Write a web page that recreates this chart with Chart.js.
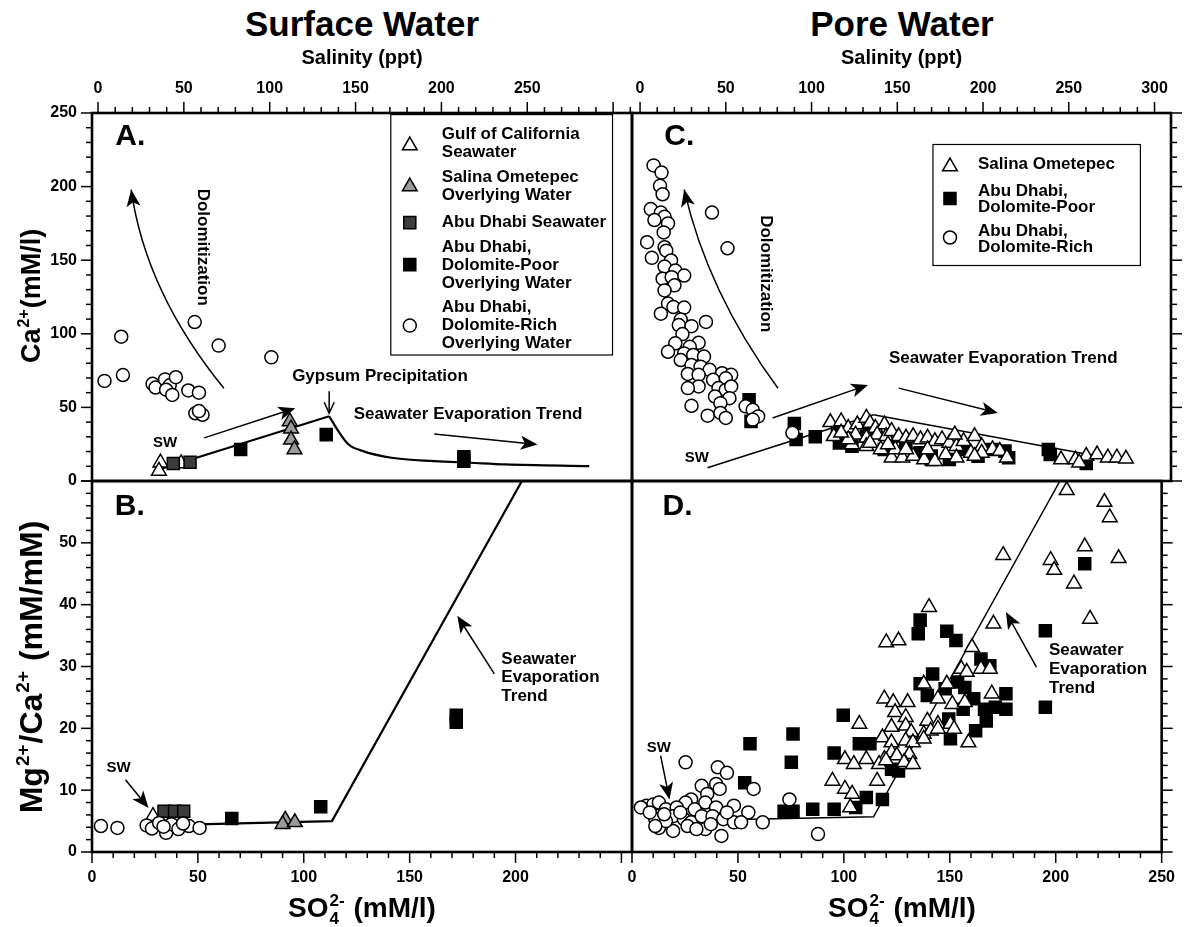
<!DOCTYPE html>
<html>
<head>
<meta charset="utf-8">
<title>Surface Water / Pore Water</title>
<script src="https://cdn.jsdelivr.net/npm/chart.js@4.4.1/dist/chart.umd.min.js"></script>
<style>
  body { margin: 0; background: #fff; }
  #wrap { position: relative; width: 1191px; height: 927px; }
  #wrap canvas { position: absolute; left: 0; top: 0; }
  .head {
    position: absolute; top: 4px; transform: translateX(-50%);
    font: bold 35px "Liberation Sans", Arial, sans-serif; white-space: nowrap;
  }
</style>
</head>
<body>
<div id="wrap">
  <div class="head" style="left:362px">Surface Water</div>
  <div class="head" style="left:902px">Pore Water</div>
  <canvas id="panelA" width="1191" height="927"></canvas>
  <canvas id="panelB" width="1191" height="927"></canvas>
  <canvas id="panelC" width="1191" height="927"></canvas>
  <canvas id="panelD" width="1191" height="927"></canvas>
</div>
<script>
const FONT = '"Liberation Sans", Arial, Helvetica, sans-serif';

// ---- data: [SO4 (mM/l), value] ----
// A. surface water, Ca2+ (mM/l)
const aGulfSeawater = [[32.3, 12.4], [31.6, 6.8], [42.1, 11.9]];
const aSalinaOverlying = [[93.4, 40.5], [94.0, 35.5], [94.0, 28.0], [95.6, 21.4]];
const aAbuSeawater = [[38.4, 11.9], [46.3, 12.8]];
const aAbuPoorOverlying = [[70.2, 21.4], [110.6, 31.5], [175.6, 13.5], [175.6, 16.5]];
const aAbuRichOverlying = [[5.9, 68], [13.8, 98], [14.6, 72], [48.5, 108], [59.8, 92], [84.7, 84],
  [28.6, 66], [30, 63.5], [34.5, 69], [36.7, 65], [39.6, 70.5], [35, 62], [37.9, 58.5],
  [45.5, 61.5], [50.5, 60], [48.8, 46], [52.2, 45], [50.5, 47.5]];
const aTrendRise = [[32, 8], [112, 44]];
const aTrendFall = [[112, 44], [116.2, 34.2], [121.2, 24.8], [128, 20.3], [141.4, 15.8],
  [161.6, 13.5], [178.5, 12.4], [195.3, 11.3], [234.8, 10.1]];

// B. surface water, Mg2+/Ca2+
const bGulfSeawater = [[28.8, 5.8], [38.3, 5.5]];
const bSalinaOverlying = [[91.3, 5.2], [90, 4.5], [95.8, 4.8]];
const bAbuSeawater = [[34, 6.6], [39, 6.6], [43.3, 6.6]];
const bAbuPoorOverlying = [[66, 5.4], [108, 7.3], [172, 22.1], [172, 21]];
const bAbuRichOverlying = [[4.2, 4.2], [12, 3.9], [25.8, 4.3], [28.3, 3.8], [31.7, 4.7], [35, 3.1],
  [37.5, 4.5], [40.8, 3.7], [45.8, 4.2], [50.8, 3.9], [43, 4.6], [33.8, 4.1]];
const bTrend = [[30, 4.3], [113.3, 5.0], [203, 60]];

// C. pore water, Ca2+ (mM/l)
const cSalina = [[92, 39.9], [97, 40.5], [100.3, 36], [104.5, 38.3], [108.7, 42.8], [110.4, 39.4],
  [112.9, 36], [117.1, 38.3], [103.7, 31.5], [108.7, 29.3], [113.7, 31.5], [102, 24.8],
  [108.7, 23.6], [117.9, 30.4], [120.4, 33.8], [123.7, 30.4], [127.1, 29.3], [130.4, 30.4],
  [133.8, 28.2], [137.1, 29.3], [140.5, 27], [143.8, 28.2], [147.2, 25.9], [150.5, 23.6],
  [153.8, 27], [158.9, 30.4], [162.2, 23.6], [167.2, 21.4], [170.6, 20.3], [173.9, 15.8],
  [120.4, 15.8], [125.4, 15.8], [130.4, 16.9], [135.5, 14.6], [140.5, 13.5], [145.5, 18],
  [150.5, 15.8], [157.2, 19.1], [162.2, 19.1], [199, 14.6], [205.7, 14.6], [210.7, 16.9],
  [215.7, 18], [220.7, 15.8], [224.9, 15.8], [229.1, 15.1], [110.4, 25.9], [115.4, 21.4],
  [122.1, 21.4], [127.1, 21.4], [137.1, 21.4], [118.7, 24.8], [100.3, 28.2], [93.6, 30.4],
  [97, 32.7], [149.7, 31.5], [158.9, 16.9], [207.4, 12.4]];
const cAbuPoor = [[54.3, 55.2], [55.2, 40.5], [75.3, 39], [76.1, 28.2], [85, 30], [95.3, 32.7],
  [96.2, 25.9], [110.4, 36], [108.7, 30.4], [102, 23.6], [120.4, 30.4], [127, 23.6],
  [133.8, 19.1], [138.8, 14.6], [147.2, 14.6], [153.8, 21.4], [160.5, 16.9], [167.2, 21.4],
  [173, 20.3], [174.7, 15.8], [193.1, 21.4], [194, 18], [210.7, 11.9], [138.8, 16.9], [117, 21.4]];
const cAbuRich = [[10, 214.4], [13.7, 209.5], [13, 200.5], [14.2, 194.8], [8.7, 184.7], [13.4, 182.4],
  [15.1, 179.5], [10.4, 177.3], [16.7, 175], [14.7, 168.9], [37.1, 182.4], [7, 162.2],
  [15.1, 158.8], [15.9, 156.5], [44.3, 158.1], [9.2, 151.6], [18.1, 149.8], [15.1, 145.7],
  [20.1, 143], [24.2, 139.6], [14.2, 137.4], [18.4, 138.5], [19.7, 132.9], [15.1, 129.5],
  [16.7, 120.5], [19.2, 118.2], [24.2, 117.8], [13.4, 113.7], [22.6, 109.7], [34.3, 108.1],
  [21.7, 105.9], [27.6, 105.2], [23.4, 99.8], [30.9, 93.9], [20.1, 93.5], [26.8, 91.2],
  [16.7, 87.8], [24.2, 86.7], [28.4, 85.6], [33.4, 84.5], [22.6, 82.2], [27.6, 78.8],
  [31.8, 77.7], [36, 75.5], [25.9, 72.7], [30.9, 72.1], [41.8, 73.2], [46, 72.1],
  [37.6, 68.7], [43.5, 69.8], [30.9, 64.2], [25.9, 63.1], [40.1, 63.1], [43.5, 61.9],
  [46, 64.2], [38.5, 57.4], [45.2, 56.3], [41, 52.9], [27.6, 51.1], [35.1, 44.4],
  [41, 46.2], [43.5, 42.8], [52.7, 50.7], [56, 48.4], [58.5, 43.9], [56, 41.7], [74.4, 32.7]];
const cTrendRise = [[35, 9], [112, 45]];
const cTrendFall = [[112, 45], [232, 12.5]];

// D. pore water, Mg2+/Ca2+
const dSalina = [[205.2, 58.5], [223, 56.6], [225.5, 54.1], [213.7, 49.4], [197.6, 47.2], [199.3, 45.6],
  [208.6, 43.4], [229.7, 47.5], [216.2, 37.7], [175.2, 48], [170.6, 36.9], [140.2, 39.6],
  [120, 33.9], [125.8, 34.2], [160.5, 33.1], [155.4, 29.6], [164.7, 29.6], [168.9, 29.6],
  [137.7, 27.2], [148.6, 27.2], [158, 29.1], [169.8, 25.6], [119.1, 24.8], [123.3, 24.2],
  [130.1, 24.2], [124.2, 22.6], [129.2, 21.8], [139.4, 21.2], [144.4, 24.8], [151.2, 23.9],
  [157.1, 24.2], [144.4, 20.7], [150.3, 20.7], [107.3, 20.7], [122.5, 20.2], [129.2, 20.4],
  [137.7, 19.1], [141, 19.6], [144.4, 19.9], [152, 19.9], [158.8, 17.7], [131.8, 19.4],
  [118.2, 18.5], [122.5, 17.7], [129.2, 18], [132.6, 17.7], [137.7, 18.3], [122.5, 16.1],
  [119.1, 15], [125, 15.6], [130.9, 15.8], [129.2, 14.2], [100.5, 15], [104.7, 14.2],
  [110.6, 15], [116.6, 14.2], [119.9, 14.8], [128.4, 14.5], [132.6, 14.2], [94.6, 11.5],
  [100.5, 10.2], [103.9, 9.4], [103, 7.2], [115.7, 11.5]];
const dAbuPoor = [[55.7, 17.5], [76, 19.1], [75.2, 14.5], [53.2, 11.2], [71.8, 6.6], [76, 6.6],
  [85.3, 6.9], [95.4, 6.9], [105.6, 7.2], [110.6, 8.8], [118.2, 8.5], [99.7, 22.1],
  [95.4, 16], [107.3, 17.5], [112.3, 17.5], [122.5, 13.4], [125.8, 13.1], [136, 37.5],
  [135.1, 35.3], [148.6, 35.7], [152.9, 34.2], [164.7, 31.2], [168.9, 30.1], [136, 27.2],
  [141.9, 28.8], [139.4, 25.3], [147.8, 26.4], [153.7, 27.5], [157.1, 26.6], [161.3, 24.8],
  [166.4, 23.1], [171.5, 23.4], [176.5, 25.6], [176.5, 23.1], [167.2, 21.2], [162.2, 19.6],
  [150.3, 18.3], [149.5, 21.5], [156.3, 23.1], [195.1, 35.8], [195.1, 23.4], [213.7, 46.6]];
const dAbuRich = [[25.3, 14.5], [40.5, 13.7], [44.8, 12.8], [32.9, 10.7], [39.7, 11], [35.5, 9.4],
  [41.4, 10.2], [27.9, 8.5], [34.6, 8], [25.3, 8], [6.8, 7.5], [10.1, 7.7], [12.7, 8],
  [4.2, 7.2], [16, 6.9], [21.1, 7.2], [29.6, 6.9], [39.7, 7.2], [48.1, 7.5], [54.9, 6.4],
  [61.7, 4.8], [14.4, 5.6], [19.4, 5.8], [24.5, 5.3], [27.9, 4.8], [32.9, 5.8], [38, 5.8],
  [43.1, 5.3], [48.1, 4.8], [51.5, 4.8], [11, 5.3], [8.4, 6.4], [12.7, 3.9], [19.4, 3.4],
  [26.2, 4.2], [34.6, 3.7], [42.2, 2.6], [16, 5], [22.8, 6.4], [44.8, 6.4], [57.4, 10.2],
  [74.3, 8.5], [87.8, 2.9], [30.4, 3.7], [37.2, 4.5], [15.2, 6.1], [11, 4.2]];
const dTrend = [[15, 5.0], [114, 5.7], [202, 60]];

// axis ranges and tick labels
const so4RangeLeft = [0, 255];
const so4RangeRight = [0, 250];
const caRange = [0, 250];
const ratioRange = [0, 60];
const salinityLeft = [-3.5, 311];
const salinityRight = [-4.7, 309.6];

// ---- styles ----
const STYLE = {
  gulf:   { pointStyle: 'triangle', radius: 8.5, bg: '#ffffff' },
  salina: { pointStyle: 'triangle', radius: 8.5, bg: '#9b9b9b' },
  abuSW:  { pointStyle: 'rect', radius: 8.5, bg: '#3c3c3c' },
  poor:   { pointStyle: 'rect', radius: 8.5, bg: '#000000' },
  rich:   { pointStyle: 'circle', radius: 6.5, bg: '#ffffff' }
};

function pts(arr) { return arr.map(([x, y]) => ({ x, y })); }

function markers(data, s) {
  return {
    data: pts(data), showLine: false, order: 1,
    pointStyle: s.pointStyle, pointRadius: s.radius,
    pointBackgroundColor: s.bg, pointBorderColor: '#000', pointBorderWidth: 1.5
  };
}

function trend(data, width, smooth) {
  return {
    data: pts(data), showLine: true, order: 5, pointRadius: 0, fill: false,
    borderColor: '#000', borderWidth: width,
    cubicInterpolationMode: smooth ? 'monotone' : 'default', tension: 0
  };
}

const boldFont = size => ({ family: FONT, size, weight: 'bold' });
const hidden = { display: false, drawTicks: false };

// ---- drawing helpers ----
function drawRich(ctx, parts, x, y, size, angle) {
  const big = `bold ${size}px ${FONT}`;
  const small = `bold ${Math.round(size * 0.6)}px ${FONT}`;
  const widths = parts.map(p => {
    if (p.t) { ctx.font = big; return ctx.measureText(p.t).width; }
    ctx.font = small;
    return Math.max(p.sup ? ctx.measureText(p.sup).width : 0, p.sub ? ctx.measureText(p.sub).width : 0) + 2;
  });
  const total = widths.reduce((a, b) => a + b, 0);
  ctx.save();
  ctx.translate(x, y);
  ctx.rotate(angle || 0);
  ctx.fillStyle = '#000';
  ctx.textAlign = 'left';
  ctx.textBaseline = 'alphabetic';
  let cx = -total / 2;
  const base = size * 0.36;
  parts.forEach((p, i) => {
    if (p.t) {
      ctx.font = big;
      ctx.fillText(p.t, cx, base);
    } else {
      ctx.font = small;
      if (p.sup) ctx.fillText(p.sup, cx + 1, base - size * 0.4);
      if (p.sub) ctx.fillText(p.sub, cx + 1, base + size * 0.24);
    }
    cx += widths[i];
  });
  ctx.restore();
}

function head(ctx, x, y, ang, filled) {
  const len = filled ? 17 : 11, half = filled ? 7 : 5;
  const bx = x - len * Math.cos(ang), by = y - len * Math.sin(ang);
  const px = -Math.sin(ang) * half, py = Math.cos(ang) * half;
  ctx.beginPath();
  if (filled) {
    ctx.moveTo(x, y);
    ctx.lineTo(bx + px, by + py);
    ctx.lineTo(x - len * 0.75 * Math.cos(ang), y - len * 0.75 * Math.sin(ang));
    ctx.lineTo(bx - px, by - py);
    ctx.closePath();
    ctx.fill();
  } else {
    ctx.moveTo(bx + px, by + py);
    ctx.lineTo(x, y);
    ctx.lineTo(bx - px, by - py);
    ctx.stroke();
  }
}

const decor = {
  id: 'decor',
  afterDraw(chart) {
    const cfg = chart.options.plugins.decor;
    if (!cfg) return;
    const ctx = chart.ctx;
    const area = chart.chartArea;
    const xs = chart.scales.x, ys = chart.scales.y;
    const X = v => xs.getPixelForValue(v), Y = v => ys.getPixelForValue(v);
    ctx.save();
    ctx.strokeStyle = '#000';
    ctx.fillStyle = '#000';

    // tick marks (minor / major)
    ctx.lineWidth = 1.5;
    cfg.ticks.forEach(t => {
      const sc = chart.scales[t.scale];
      const n = Math.round((t.to - t.from) / t.minor);
      for (let i = 0; i <= n; i++) {
        const v = t.from + i * t.minor;
        const p = sc.getPixelForValue(v);
        const len = (Math.abs(v / t.major - Math.round(v / t.major)) < 1e-6) ? 11 : 6;
        ctx.beginPath();
        if (t.side === 'left' || t.side === 'right') {
          if (p < area.top - 0.5 || p > area.bottom + 0.5) continue;
          const e = t.side === 'left' ? area.left : area.right;
          const d = t.side === 'left' ? -len : len;
          ctx.moveTo(e, p); ctx.lineTo(e + d, p);
        } else {
          if (p < area.left - 0.5 || p > area.right + 0.5) continue;
          const e = t.side === 'top' ? area.top : area.bottom;
          const d = t.side === 'top' ? -len : len;
          ctx.moveTo(p, e); ctx.lineTo(p, e + d);
        }
        ctx.stroke();
      }
    });

    // frame
    ctx.lineWidth = 2.6;
    ctx.strokeRect(area.left, area.top, area.right - area.left, area.bottom - area.top);

    // axis titles with sub/superscripts
    (cfg.titles || []).forEach(t => drawRich(ctx, t.parts, t.x, t.y, t.size, t.angle));

    // arrows and curves
    (cfg.arrows || []).forEach(a => {
      ctx.lineWidth = a.width || 1.5;
      const x1 = X(a.from[0]), y1 = Y(a.from[1]), x2 = X(a.to[0]), y2 = Y(a.to[1]);
      let ang;
      ctx.beginPath();
      ctx.moveTo(x1, y1);
      if (a.ctrl) {
        const cx = X(a.ctrl[0]), cy = Y(a.ctrl[1]);
        ctx.quadraticCurveTo(cx, cy, x2, y2);
        ang = Math.atan2(y2 - cy, x2 - cx);
      } else {
        ang = Math.atan2(y2 - y1, x2 - x1);
        const back = a.open ? 0 : 10;
        ctx.lineTo(x2 - back * Math.cos(ang), y2 - back * Math.sin(ang));
      }
      ctx.stroke();
      head(ctx, x2, y2, ang, !a.open);
    });

    // texts
    (cfg.texts || []).forEach(t => {
      ctx.save();
      ctx.font = `bold ${t.size || 17}px ${FONT}`;
      ctx.textAlign = t.align || 'center';
      ctx.textBaseline = 'middle';
      ctx.translate(X(t.at[0]), Y(t.at[1]));
      if (t.rot) ctx.rotate(t.rot);
      ctx.fillText(t.text, 0, 0);
      ctx.restore();
    });

    // legend box
    if (cfg.legend) {
      const L = cfg.legend;
      const left = X(L.box[0]), top = Y(L.box[1]), right = X(L.box[2]), bottom = Y(L.box[3]);
      ctx.lineWidth = 1.2;
      ctx.strokeRect(left, top, right - left, bottom - top);
      ctx.font = `bold 17px ${FONT}`;
      ctx.textAlign = 'left';
      ctx.textBaseline = 'middle';
      L.rows.forEach(r => {
        const s = STYLE[r.style];
        ctx.fillStyle = s.bg;
        ctx.strokeStyle = '#000';
        ctx.lineWidth = 1.5;
        Chart.helpers.drawPoint(ctx, { pointStyle: s.pointStyle, radius: s.radius, rotation: 0, borderWidth: 1.5 },
          left + L.symX, top + r.dy);
        ctx.fillStyle = '#000';
        r.lines.forEach((line, i) => ctx.fillText(line, left + L.textX, top + r.ty + i * L.lineH));
      });
    }
    ctx.restore();
  }
};

function yScale(range, side, width, step, showLabels, hideTop) {
  return {
    type: 'linear', position: side, min: range[0], max: range[1],
    afterFit: s => { s.width = width; },
    grid: hidden, border: { display: false },
    ticks: {
      display: showLabels, stepSize: step, color: '#000', font: boldFont(16), padding: 15,
      callback: v => (hideTop && v === range[1]) ? '' : v
    }
  };
}

function xBottom(range, maxLabel) {
  return {
    type: 'linear', position: 'bottom', min: range[0], max: range[1],
    afterFit: s => { s.height = 75; },
    grid: hidden, border: { display: false },
    ticks: { stepSize: 50, color: '#000', font: boldFont(16), padding: 16, maxRotation: 0,
      callback: v => v <= maxLabel ? v : '' }
  };
}

function xTop(range, maxLabel) {
  return {
    type: 'linear', position: 'top', min: range[0], max: range[1],
    afterFit: s => { s.height = 113; },
    grid: hidden, border: { display: false },
    ticks: { stepSize: 50, includeBounds: false, color: '#000', font: boldFont(16), padding: 15,
      maxRotation: 0, callback: v => v <= maxLabel ? v : '' },
    title: { display: true, text: 'Salinity (ppt)', color: '#000', font: boldFont(20),
      padding: { top: 46, bottom: 0 } }
  };
}

function makePanel(id, padding, datasets, scales, decorCfg) {
  return new Chart(document.getElementById(id), {
    type: 'scatter',
    data: { datasets },
    options: {
      responsive: false, animation: false, devicePixelRatio: 1, events: [],
      layout: { padding },
      scales,
      plugins: { legend: { display: false }, tooltip: { enabled: false }, title: { display: false }, decor: decorCfg }
    },
    plugins: [decor]
  });
}

const caTitle = [{ t: 'Ca' }, { sup: '2+' }, { t: '(mM/l)' }];
const ratioTitle = [{ t: 'Mg' }, { sup: '2+' }, { t: '/Ca' }, { sup: '2+' }, { t: ' (mM/mM)' }];
const so4Title = [{ t: 'SO' }, { sub: '4', sup: '2-' }, { t: ' (mM/l)' }];
const UP = -Math.PI / 2, DOWN = Math.PI / 2;

// ---- A ----
makePanel('panelA', { left: 0, top: 0, right: 559, bottom: 446 }, [
  trend(aTrendRise, 2.2), trend(aTrendFall, 2.2, true),
  markers(aAbuRichOverlying, STYLE.rich), markers(aAbuPoorOverlying, STYLE.poor),
  markers(aAbuSeawater, STYLE.abuSW), markers(aSalinaOverlying, STYLE.salina),
  markers(aGulfSeawater, STYLE.gulf)
], {
  x: { type: 'linear', min: so4RangeLeft[0], max: so4RangeLeft[1], display: false },
  y: yScale(caRange, 'left', 92, 50, true, false),
  x2: xTop(salinityLeft, 250)
}, {
  ticks: [
    { scale: 'y', side: 'left', from: 0, to: 250, minor: 10, major: 50 },
    { scale: 'x2', side: 'top', from: 0, to: 310, minor: 10, major: 50 }
  ],
  titles: [{ parts: caTitle, x: 30, y: 296, size: 27, angle: UP }],
  arrows: [
    { from: [62.3, 63], ctrl: [25.3, 128.4], to: [18.5, 198] },
    { from: [112, 61], to: [112, 46], open: true },
    { from: [161.6, 32], to: [210.4, 24.8] },
    { from: [53, 29.3], to: [96, 49.5] }
  ],
  texts: [
    { text: 'A.', at: [11, 234], size: 30, align: 'left' },
    { text: 'Dolomitization', at: [52.2, 158.8], rot: DOWN },
    { text: 'Gypsum Precipitation', at: [136, 71] },
    { text: 'Seawater Evaporation Trend', at: [177.6, 45] },
    { text: 'SW', at: [34.5, 26], size: 15 }
  ],
  legend: {
    box: [141.1, 248.9, 245.8, 85.6], symX: 19, textX: 51, lineH: 18,
    rows: [
      { style: 'gulf', dy: 31, ty: 20, lines: ['Gulf of California', 'Seawater'] },
      { style: 'salina', dy: 72, ty: 63, lines: ['Salina Ometepec', 'Overlying Water'] },
      { style: 'abuSW', dy: 108, ty: 108, lines: ['Abu Dhabi Seawater'] },
      { style: 'poor', dy: 150, ty: 133, lines: ['Abu Dhabi,', 'Dolomite-Poor', 'Overlying Water'] },
      { style: 'rich', dy: 211, ty: 193, lines: ['Abu Dhabi,', 'Dolomite-Rich', 'Overlying Water'] }
    ]
  }
});

// ---- B ----
makePanel('panelB', { left: 0, top: 481, right: 559, bottom: 0 }, [
  trend(bTrend, 2.2),
  markers(bAbuRichOverlying, STYLE.rich), markers(bAbuPoorOverlying, STYLE.poor),
  markers(bAbuSeawater, STYLE.abuSW), markers(bSalinaOverlying, STYLE.salina),
  markers(bGulfSeawater, STYLE.gulf)
], {
  x: xBottom(so4RangeLeft, 200),
  y: yScale(ratioRange, 'left', 92, 10, true, true)
}, {
  ticks: [
    { scale: 'y', side: 'left', from: 0, to: 60, minor: 2, major: 10 },
    { scale: 'x', side: 'bottom', from: 0, to: 255, minor: 10, major: 50 }
  ],
  titles: [
    { parts: ratioTitle, x: 30, y: 667, size: 32, angle: UP },
    { parts: so4Title, x: 362, y: 907, size: 28 }
  ],
  arrows: [
    { from: [15.8, 11.7], to: [26.7, 7.1] },
    { from: [190, 28.8], to: [172.5, 38.2] }
  ],
  texts: [
    { text: 'B.', at: [10.8, 55.9], size: 30, align: 'left' },
    { text: 'SW', at: [12.5, 13.6], size: 15 },
    { text: 'Seawater', at: [193.3, 31.2], align: 'left' },
    { text: 'Evaporation', at: [193.3, 28.2], align: 'left' },
    { text: 'Trend', at: [193.3, 25.2], align: 'left' }
  ]
});

// ---- C ----
makePanel('panelC', { left: 632, top: 0, right: 0, bottom: 446 }, [
  trend(cTrendRise, 1.5), trend(cTrendFall, 1.5),
  markers(cAbuRich, STYLE.rich), markers(cSalina, STYLE.gulf), markers(cAbuPoor, STYLE.poor)
], {
  x: { type: 'linear', min: so4RangeRight[0], max: so4RangeRight[1], display: false },
  y: yScale(caRange, 'right', 20, 50, false, false),
  x2: xTop(salinityRight, 300)
}, {
  ticks: [
    { scale: 'y', side: 'right', from: 0, to: 250, minor: 10, major: 50 },
    { scale: 'x2', side: 'top', from: 0, to: 310, minor: 10, major: 50 }
  ],
  arrows: [
    { from: [67.7, 63], ctrl: [35, 128.4], to: [24.2, 198] },
    { from: [65.2, 42.8], to: [109.5, 65.3] },
    { from: [123.7, 63.1], to: [169.7, 46.2] }
  ],
  texts: [
    { text: 'C.', at: [15, 234], size: 30, align: 'left' },
    { text: 'Dolomitization', at: [61.9, 140.8], rot: DOWN },
    { text: 'Seawater Evaporation Trend', at: [172.2, 83.3] },
    { text: 'SW', at: [30.1, 15.8], size: 15 }
  ],
  legend: {
    box: [139.6, 228.6, 235.8, 146.4], symX: 17, textX: 45, lineH: 16,
    rows: [
      { style: 'gulf', dy: 22, ty: 20, lines: ['Salina Ometepec'] },
      { style: 'poor', dy: 54, ty: 47, lines: ['Abu Dhabi,', 'Dolomite-Poor'] },
      { style: 'rich', dy: 93, ty: 87, lines: ['Abu Dhabi,', 'Dolomite-Rich'] }
    ]
  }
});

// ---- D ----
makePanel('panelD', { left: 632, top: 481, right: 0, bottom: 0 }, [
  trend(dTrend, 1.5),
  markers(dAbuRich, STYLE.rich), markers(dSalina, STYLE.gulf), markers(dAbuPoor, STYLE.poor)
], {
  x: xBottom(so4RangeRight, 250),
  y: yScale(ratioRange, 'right', 20, 10, false, false)
}, {
  ticks: [
    { scale: 'y', side: 'right', from: 0, to: 60, minor: 2, major: 10 },
    { scale: 'x', side: 'bottom', from: 0, to: 250, minor: 10, major: 50 }
  ],
  titles: [{ parts: so4Title, x: 902, y: 907, size: 28 }],
  arrows: [
    { from: [13.5, 15.6], to: [17.7, 8.5] },
    { from: [190.9, 29.9], to: [176.5, 38.8] }
  ],
  texts: [
    { text: 'D.', at: [14.4, 55.8], size: 30, align: 'left' },
    { text: 'SW', at: [12.7, 16.9], size: 15 },
    { text: 'Seawater', at: [196.8, 32.6], align: 'left' },
    { text: 'Evaporation', at: [196.8, 29.5], align: 'left' },
    { text: 'Trend', at: [196.8, 26.4], align: 'left' }
  ]
});
</script>
</body>
</html>
